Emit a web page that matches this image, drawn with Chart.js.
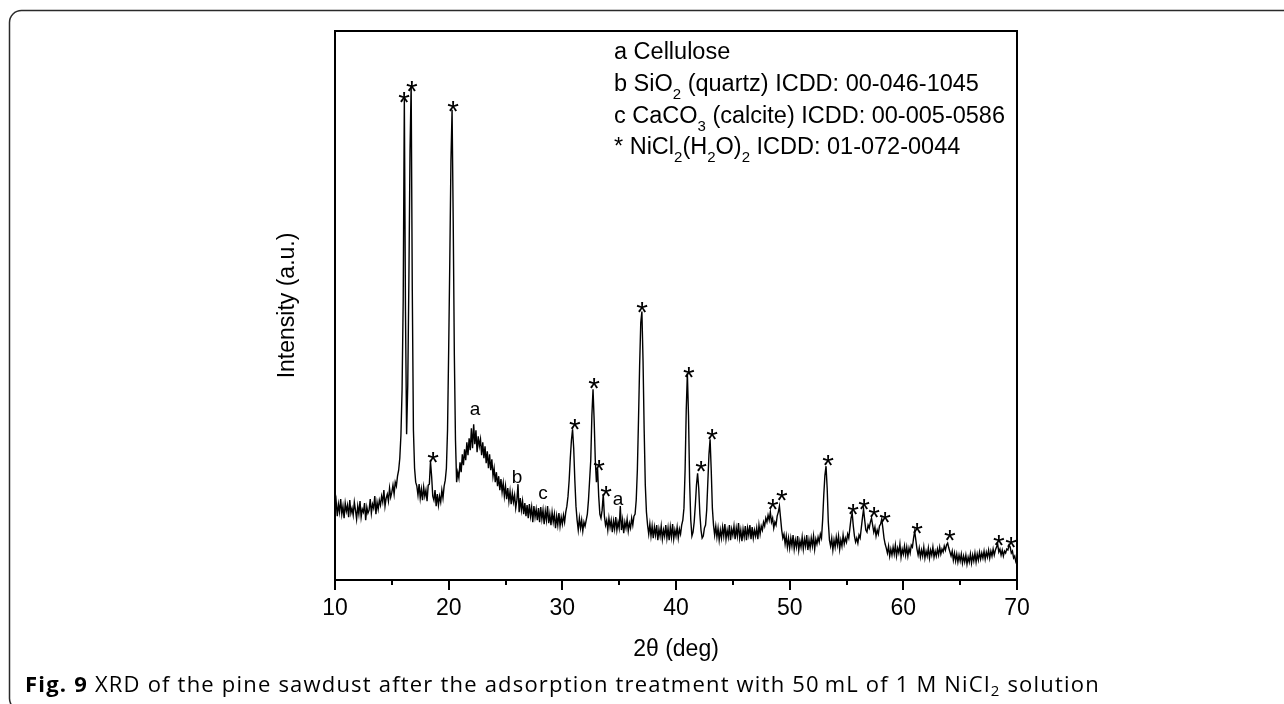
<!DOCTYPE html>
<html>
<head>
<meta charset="utf-8">
<script src="https://cdn.jsdelivr.net/npm/chart.js@4.4.1/dist/chart.umd.min.js"></script>
<style>
  html, body { margin: 0; padding: 0; background: #fff; }
  #wrap { position: relative; width: 1284px; height: 704px; }
</style>
</head>
<body>
<div id="wrap"><canvas id="xrd" width="1284" height="704"></canvas></div>
<script>
const FONT = "'Liberation Sans', Arial, sans-serif";
const CAPTION_FONT = "'Open Sans', 'Noto Sans', sans-serif";

// scan settings of the diffractogram (2θ, degrees)
const scanStart = 10;
const scanStep = 0.1;

// intensity, one row per degree (a.u.)
const intensity = [
  70, 79, 64, 76, 68, 81, 66, 74, 62, 77,      // 10
  69, 75, 63, 80, 67, 72, 65, 78, 70, 61,      // 11
  74, 66, 79, 63, 71, 68, 77, 60, 73, 67,      // 12
  70, 81, 67, 76, 72, 84, 66, 78, 71, 80,      // 13
  75, 84, 78, 90, 74, 82, 86, 79, 92, 83,      // 14
  88, 95, 86, 98, 94, 104, 110, 122, 145, 190, // 15
  280, 482, 270, 146, 195, 300, 430, 496, 290, 150, // 16
  112, 98, 94, 85, 96, 82, 91, 80, 93, 84,     // 17
  90, 79, 95, 96, 119, 104, 84, 80, 90, 74,    // 18
  86, 75, 84, 78, 90, 82, 94, 100, 112, 150,   // 19
  230, 320, 420, 471, 360, 225, 140, 98, 108, 102, // 20
  118, 108, 126, 115, 131, 120, 138, 125, 142, 130, // 21
  152, 132, 156, 136, 150, 128, 144, 134, 141, 125, // 22
  138, 122, 134, 117, 129, 112, 126, 110, 121, 104, // 23
  112, 98, 108, 94, 104, 90, 101, 88, 97, 84,  // 24
  94, 81, 92, 79, 89, 76, 87, 78, 85, 72,      // 25
  80, 96, 68, 82, 70, 79, 66, 77, 64, 75,      // 26
  62, 76, 64, 73, 58, 74, 63, 71, 60, 72,      // 27
  58, 73, 61, 70, 56, 69, 60, 74, 57, 66,      // 28
  55, 68, 58, 66, 52, 64, 55, 67, 54, 63,      // 29
  56, 65, 58, 68, 74, 84, 100, 122, 140, 151,  // 30
  132, 100, 74, 60, 50, 62, 52, 60, 49, 58,    // 31
  54, 60, 66, 80, 100, 120, 165, 191, 160, 120, // 32
  98, 112, 84, 66, 62, 70, 86, 64, 55, 60,     // 33
  50, 62, 53, 60, 48, 59, 51, 63, 50, 58,      // 34
  52, 74, 50, 60, 47, 58, 52, 61, 49, 57,      // 35
  52, 62, 55, 64, 66, 80, 110, 160, 215, 258,  // 36
  269, 220, 150, 95, 68, 55, 46, 56, 44, 54,   // 37
  42, 53, 45, 55, 40, 51, 44, 54, 41, 50,      // 38
  44, 55, 42, 52, 40, 53, 43, 56, 41, 50,      // 39
  44, 53, 42, 51, 46, 55, 60, 72, 110, 170,    // 40
  207, 165, 98, 60, 44, 48, 58, 75, 95, 107,   // 41
  92, 66, 50, 42, 44, 52, 55, 70, 98, 126,     // 42
  141, 110, 72, 55, 45, 54, 43, 52, 40, 50,    // 43
  42, 53, 44, 56, 41, 50, 43, 55, 40, 51,      // 44
  45, 54, 41, 52, 44, 57, 42, 50, 39, 51,      // 45
  43, 54, 40, 52, 45, 55, 41, 53, 42, 50,      // 46
  44, 52, 41, 55, 46, 54, 50, 58, 54, 62,      // 47
  58, 65, 60, 68, 58, 62, 52, 58, 55, 64,      // 48
  68, 74, 62, 50, 42, 46, 36, 44, 33, 42,      // 49
  32, 42, 34, 45, 31, 40, 33, 44, 30, 39,      // 50
  33, 43, 31, 41, 34, 45, 30, 40, 32, 42,      // 51
  34, 44, 31, 41, 36, 43, 38, 46, 42, 60,      // 52
  85, 105, 114, 92, 58, 40, 34, 42, 30, 40,    // 53
  33, 43, 35, 44, 31, 40, 34, 45, 36, 42,      // 54
  38, 46, 42, 52, 62, 67, 54, 44, 38, 42,      // 55
  37, 45, 42, 52, 62, 71, 60, 50, 48, 55,      // 56
  52, 58, 62, 55, 48, 53, 44, 50, 46, 54,      // 57
  56, 61, 52, 42, 36, 32, 27, 34, 24, 31,      // 58
  25, 33, 26, 35, 24, 32, 27, 36, 23, 31,      // 59
  26, 34, 25, 33, 24, 32, 27, 35, 33, 42,      // 60
  49, 40, 31, 25, 32, 23, 30, 24, 33, 22,      // 61
  29, 24, 32, 22, 30, 25, 33, 23, 29, 24,      // 62
  31, 25, 33, 26, 31, 28, 34, 30, 35, 37,      // 63
  32, 28, 24, 29, 20, 27, 19, 26, 18, 25,      // 64
  19, 26, 17, 24, 18, 25, 16, 23, 18, 26,      // 65
  17, 25, 19, 27, 18, 26, 20, 28, 21, 27,      // 66
  22, 29, 21, 28, 23, 30, 22, 29, 24, 31,      // 67
  25, 30, 33, 36, 28, 31, 25, 30, 24, 29,      // 68
  27, 31, 30, 35, 33, 27, 29, 22, 24, 18,      // 69
  15                                           // 70
];

// NiCl2(H2O)2 reflections marked with *
const starAngles  = [16.07, 16.77, 18.62, 20.38, 31.11, 32.79, 33.23, 33.84, 37.01, 41.14, 42.20, 43.17,
                     48.53, 49.32, 53.37, 55.57, 56.54, 57.42, 58.39, 61.20, 64.10, 68.41, 69.47];
const starHeights = [486, 497, 125, 477, 158, 199, 117, 91, 276, 210, 116, 148,
                     78, 87, 122, 73, 78, 70, 65, 54, 47, 42, 40];

// other phases (a cellulose, b quartz, c calcite)
const phaseLabels  = ['a', 'b', 'c', 'a'];
const phaseAngles  = [22.32, 26.01, 28.30, 34.90];
const phaseHeights = [171, 102, 86, 80];

const xTicksMajor = [10, 20, 30, 40, 50, 60, 70];
const xTicksMinor = [15, 25, 35, 45, 55, 65];

// legend lines: [text, isSubscript]
const legendLines = [
  [['a Cellulose', 0]],
  [['b SiO', 0], ['2', 1], [' (quartz) ICDD: 00-046-1045', 0]],
  [['c CaCO', 0], ['3', 1], [' (calcite) ICDD: 00-005-0586', 0]],
  [['* NiCl', 0], ['2', 1], ['(H', 0], ['2', 1], ['O)', 0], ['2', 1], [' ICDD: 01-072-0044', 0]]
];

const captionBold = 'Fig. 9';
const captionParts = [[' XRD of the pine sawdust after the adsorption treatment with 50\u2009mL of 1 M NiCl', 0], ['2', 1], [' solution', 0]];

const points = intensity.map((v, i) => ({ x: +(scanStart + i * scanStep).toFixed(1), y: v }));

function drawRich(ctx, parts, x, y, size, subSize, subDrop) {
  parts.forEach(([txt, sub]) => {
    ctx.font = (sub ? subSize : size) + 'px ' + FONT;
    ctx.fillText(txt, x, sub ? y + subDrop : y);
    x += ctx.measureText(txt).width;
  });
}

const decorations = {
  id: 'decorations',
  beforeDraw(chart) {
    const ctx = chart.ctx;
    ctx.save();
    // rounded figure frame
    ctx.strokeStyle = '#2a2a2a';
    ctx.lineWidth = 1.5;
    ctx.beginPath();
    ctx.roundRect(9.5, 10.5, 1300, 700, 12);
    ctx.stroke();
    ctx.restore();
  },
  afterDraw(chart) {
    const { ctx, chartArea: a, scales: { x, y } } = chart;
    ctx.save();

    // top and right sides of the plot box
    ctx.strokeStyle = '#000';
    ctx.lineWidth = 2;
    ctx.beginPath();
    ctx.moveTo(a.left - 1, a.top);
    ctx.lineTo(a.right, a.top);
    ctx.lineTo(a.right, a.bottom);
    ctx.stroke();

    // minor ticks
    ctx.beginPath();
    xTicksMinor.forEach(v => {
      const px = Math.round(x.getPixelForValue(v));
      ctx.moveTo(px, a.bottom);
      ctx.lineTo(px, a.bottom + 5);
    });
    ctx.stroke();

    // peak markers
    ctx.fillStyle = '#000';
    ctx.textAlign = 'center';
    ctx.textBaseline = 'alphabetic';
    ctx.font = '30px ' + FONT;
    starAngles.forEach((ang, i) => {
      ctx.fillText('*', x.getPixelForValue(ang), y.getPixelForValue(starHeights[i]) + 17);
    });
    ctx.font = '19px ' + FONT;
    ctx.textBaseline = 'middle';
    phaseLabels.forEach((lab, i) => {
      ctx.fillText(lab, x.getPixelForValue(phaseAngles[i]), y.getPixelForValue(phaseHeights[i]));
    });

    // phase key
    ctx.textAlign = 'left';
    ctx.textBaseline = 'middle';
    const lineY = [22, 54, 86, 117];
    legendLines.forEach((parts, i) => {
      drawRich(ctx, parts, a.left + 279, a.top + lineY[i], 23.5, 15, 10);
    });

    // caption
    ctx.textBaseline = 'middle';
    ctx.letterSpacing = '1.2px';
    let cx = 25;
    const cy = 686;
    ctx.font = 'bold 22px ' + CAPTION_FONT;
    ctx.fillText(captionBold, cx, cy);
    cx += ctx.measureText(captionBold).width;
    captionParts.forEach(([txt, sub]) => {
      ctx.font = (sub ? 15 : 22) + 'px ' + CAPTION_FONT;
      ctx.fillText(txt, cx, sub ? cy + 6 : cy);
      cx += ctx.measureText(txt).width;
    });
    ctx.restore();
  }
};

new Chart(document.getElementById('xrd'), {
  type: 'line',
  data: {
    datasets: [{
      data: points,
      borderColor: '#000',
      borderWidth: 1.4,
      pointRadius: 0,
      fill: false,
      tension: 0
    }]
  },
  options: {
    responsive: false,
    animation: false,
    layout: { padding: { left: 274, top: 31, right: 267, bottom: 41 } },
    plugins: { legend: { display: false }, tooltip: { enabled: false } },
    scales: {
      x: {
        type: 'linear',
        min: 10,
        max: 70,
        border: { display: true, color: '#000', width: 2 },
        grid: { display: true, drawOnChartArea: false, drawTicks: true, tickLength: 10, color: '#000', lineWidth: 2 },
        afterBuildTicks: s => { s.ticks = xTicksMajor.map(v => ({ value: v })); },
        ticks: { color: '#000', font: { family: FONT, size: 23 }, padding: 5, maxRotation: 0, autoSkip: false },
        title: { display: true, text: '2θ (deg)', color: '#000', font: { family: FONT, size: 23 }, padding: 0 },
        afterFit: s => { s.height = 83; }
      },
      y: {
        min: 0,
        max: 550,
        border: { display: true, color: '#000', width: 2 },
        grid: { display: false },
        ticks: { display: false },
        title: { display: true, text: 'Intensity (a.u.)', color: '#000', font: { family: FONT, size: 23 }, padding: 0 },
        afterFit: s => { s.width = 61; }
      }
    }
  },
  plugins: [decorations]
});
</script>
</body>
</html>
